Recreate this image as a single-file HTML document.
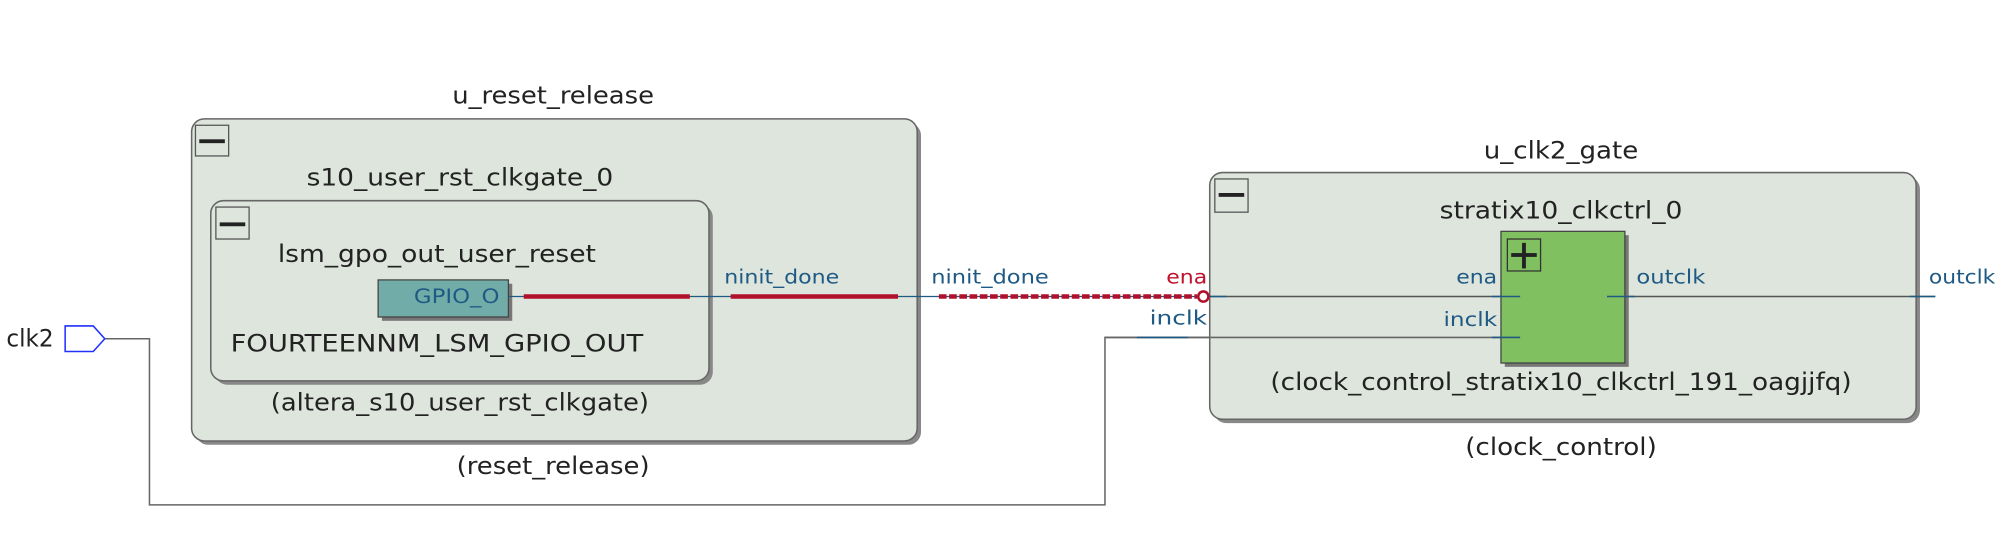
<!DOCTYPE html>
<html><head><meta charset="utf-8"><style>
html,body{margin:0;padding:0;background:#fff;width:2003px;height:533px;overflow:hidden}
svg{display:block}
text{font-family:"DejaVu Sans Condensed","DejaVu Sans","Liberation Sans",sans-serif}
.t{font-size:19px;fill:#222}
.p{font-size:15px;fill:#1f5a85}
.r{font-size:15px;fill:#c0102a}
</style></head><body>
<svg width="2003" height="533" viewBox="0 0 1568 417" preserveAspectRatio="none">
<polyline points="82,265 117,265 117,395 865,395 865,264 1190,264" fill="none" stroke="#666" stroke-width="1.2"/>

<rect x="153" y="96" width="568" height="252" rx="10" fill="#888"/>
<rect x="150" y="93" width="568" height="252" rx="10" fill="#dde5dc" stroke="#666" stroke-width="1.2"/>
<rect x="153" y="98" width="26" height="24" fill="#dde5dc" stroke="#555"/>
<rect x="156" y="109" width="20" height="3" fill="#222"/>
<text class="t" x="433" y="81" text-anchor="middle" textLength="158" lengthAdjust="spacingAndGlyphs">u_reset_release</text>
<text class="t" x="360" y="145" text-anchor="middle" textLength="240" lengthAdjust="spacingAndGlyphs">s10_user_rst_clkgate_0</text>
<rect x="168" y="160" width="390" height="141" rx="10" fill="#888"/>
<rect x="165" y="157" width="390" height="141" rx="10" fill="#dde5dc" stroke="#666" stroke-width="1.2"/>
<rect x="169" y="162" width="26" height="25" fill="#dde5dc" stroke="#555"/>
<rect x="172" y="174" width="20" height="3" fill="#222"/>
<text class="t" x="342" y="205" text-anchor="middle" textLength="249" lengthAdjust="spacingAndGlyphs">lsm_gpo_out_user_reset</text>
<rect x="299" y="222" width="102" height="29" fill="#777"/>
<rect x="296" y="219" width="102" height="29" fill="#72aca9" stroke="#444"/>
<text class="p" x="391" y="237" text-anchor="end" textLength="67" lengthAdjust="spacingAndGlyphs">GPIO_O</text>
<text class="t" x="342" y="275" text-anchor="middle" textLength="323" lengthAdjust="spacingAndGlyphs">FOURTEENNM_LSM_GPIO_OUT</text>
<text class="t" x="360" y="321" text-anchor="middle" textLength="296" lengthAdjust="spacingAndGlyphs">(altera_s10_user_rst_clkgate)</text>
<text class="t" x="433" y="371" text-anchor="middle" textLength="151" lengthAdjust="spacingAndGlyphs">(reset_release)</text>

<polygon points="51,255 73,255 82,265 73,275 51,275" fill="#fff" stroke="#2030ff" stroke-width="1.2"/>
<text class="t" x="5" y="271" textLength="37" lengthAdjust="spacingAndGlyphs">clk2</text>

<rect x="950" y="138" width="553" height="193" rx="10" fill="#888"/>
<rect x="947" y="135" width="553" height="193" rx="10" fill="#dde5dc" stroke="#666" stroke-width="1.2"/>
<rect x="951" y="140" width="26" height="26" fill="#dde5dc" stroke="#555"/>
<rect x="954" y="151" width="20" height="3" fill="#222"/>
<text class="t" x="1222" y="124" text-anchor="middle" textLength="121" lengthAdjust="spacingAndGlyphs">u_clk2_gate</text>
<text class="t" x="1222" y="171" text-anchor="middle" textLength="190" lengthAdjust="spacingAndGlyphs">stratix10_clkctrl_0</text>
<line x1="946" y1="232" x2="1190" y2="232" stroke="#555" stroke-width="1.2"/>
<line x1="865" y1="264" x2="1190" y2="264" stroke="#666" stroke-width="1.2"/>
<line x1="1258" y1="232" x2="1515" y2="232" stroke="#555" stroke-width="1.2"/>
<rect x="1178" y="184" width="97" height="103" fill="#777"/>
<rect x="1175" y="181" width="97" height="103" fill="#80c060" stroke="#444"/>
<line x1="1168" y1="232" x2="1190" y2="232" stroke="#1f5a85" stroke-width="1.2"/>
<line x1="1168" y1="264" x2="1190" y2="264" stroke="#1f5a85" stroke-width="1.2"/>
<line x1="1258" y1="232" x2="1280" y2="232" stroke="#1f5a85" stroke-width="1.2"/>
<line x1="1495" y1="232" x2="1515" y2="232" stroke="#1f5a85" stroke-width="1.2"/>
<line x1="946" y1="232" x2="960" y2="232" stroke="#1f5a85" stroke-width="1.2"/>
<line x1="890" y1="264" x2="930" y2="264" stroke="#1f5a85" stroke-width="1.2"/>
<rect x="1180" y="187" width="26" height="25" fill="#80c060" stroke="#333"/>
<rect x="1183" y="198" width="20" height="3" fill="#222"/>
<rect x="1191.5" y="190" width="3" height="20" fill="#222"/>

<line x1="398" y1="232" x2="938" y2="232" stroke="#1f5a85" stroke-width="1"/>
<line x1="410" y1="232" x2="540" y2="232" stroke="#b0102a" stroke-width="3.5"/>
<line x1="572" y1="232" x2="703" y2="232" stroke="#b0102a" stroke-width="3.5"/>
<line x1="735" y1="232" x2="937" y2="232" stroke="#b0102a" stroke-width="3.5" stroke-dasharray="6,2"/>
<circle cx="942" cy="232" r="4" fill="#fff" stroke="#b0102a" stroke-width="2"/>
<text class="p" x="567" y="222" textLength="90" lengthAdjust="spacingAndGlyphs">ninit_done</text>
<text class="p" x="729" y="222" textLength="92" lengthAdjust="spacingAndGlyphs">ninit_done</text>

<text class="r" x="945" y="222" text-anchor="end" textLength="32" lengthAdjust="spacingAndGlyphs">ena</text>
<text class="p" x="945" y="254" text-anchor="end" textLength="45" lengthAdjust="spacingAndGlyphs">inclk</text>
<text class="p" x="1172" y="222" text-anchor="end" textLength="32" lengthAdjust="spacingAndGlyphs">ena</text>
<text class="p" x="1172" y="255" text-anchor="end" textLength="42" lengthAdjust="spacingAndGlyphs">inclk</text>
<text class="p" x="1281" y="222" textLength="54" lengthAdjust="spacingAndGlyphs">outclk</text>
<text class="p" x="1510" y="222" textLength="52" lengthAdjust="spacingAndGlyphs">outclk</text>
<text class="t" x="1222" y="305" text-anchor="middle" textLength="455" lengthAdjust="spacingAndGlyphs">(clock_control_stratix10_clkctrl_191_oagjjfq)</text>
<text class="t" x="1222" y="356" text-anchor="middle" textLength="150" lengthAdjust="spacingAndGlyphs">(clock_control)</text>
</svg>
</body></html>
